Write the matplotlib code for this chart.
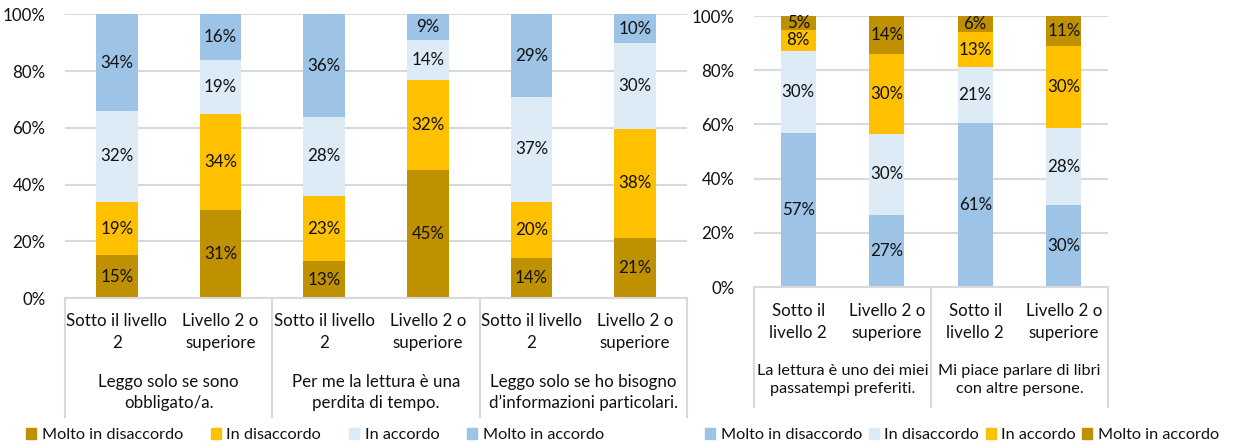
import numpy as np
import matplotlib.pyplot as plt
from matplotlib.patches import Patch

plt.rcParams['font.family'] = ['Lato', 'DejaVu Sans']

# Colori
DARK_GOLD = '#BF9000'
GOLD = '#FFC000'
PALE = '#DDEBF7'
BLUE = '#9DC3E6'
GRID = '#D9D9D9'
TXT = '#111111'
FS = 12.2
FS_LEG = 11.7

# Pannello sinistro
left_levels = ['Sotto il livello\n2', 'Livello 2 o\nsuperiore'] * 3
left_groups = ['Leggo solo se sono\nobbligato/a.',
               'Per me la lettura è una\nperdita di tempo.',
               'Leggo solo se ho bisogno\nd’informazioni particolari.']
left_series = ['Molto in disaccordo', 'In disaccordo', 'In accordo', 'Molto in accordo']
left_values = [
    [15, 31, 13, 45, 14, 21],   # Molto in disaccordo
    [19, 34, 23, 32, 20, 38],   # In disaccordo
    [32, 19, 28, 14, 37, 30],   # In accordo
    [34, 16, 36, 9, 29, 10],    # Molto in accordo
]
left_colors = [DARK_GOLD, GOLD, PALE, BLUE]

# Pannello destro
right_levels = ['Sotto il\nlivello 2', 'Livello 2 o\nsuperiore'] * 2
right_groups = ['La lettura è uno dei miei\npassatempi preferiti.',
                'Mi piace parlare di libri\ncon altre persone.']
right_series = ['Molto in disaccordo', 'In disaccordo', 'In accordo', 'Molto in accordo']
right_values = [
    [57, 27, 61, 30],   # Molto in disaccordo
    [30, 30, 21, 28],   # In disaccordo
    [8, 30, 13, 30],    # In accordo
    [5, 14, 6, 11],     # Molto in accordo
]
right_colors = [BLUE, PALE, GOLD, DARK_GOLD]

W, H = 1259, 448
fig = plt.figure(figsize=(W / 100, H / 100), dpi=100)


def px_axes(x0, x1, y_top, y_bot):
    return fig.add_axes([x0 / W, (H - y_bot) / H, (x1 - x0) / W, (y_bot - y_top) / H])


def draw_panel(ax, levels, groups, values, colors, y_top, y_bot, sep_bot, lab_y, grp_y,
               grp_fs=FS):
    n = len(levels)
    x = np.arange(n)
    vals_arr = np.array(values, dtype=float)
    shares = vals_arr / vals_arr.sum(axis=0)   # colonne in pila al 100%
    bottom = np.zeros(n)
    for share, vals, col in zip(shares, values, colors):
        ax.bar(x, share, 0.4, bottom=bottom, color=col, zorder=2)
        for xi, b, h, lab in zip(x, bottom, share, vals):
            ax.text(xi, b + h / 2, f'{lab}%', ha='center', va='center',
                    fontsize=FS, color=TXT, zorder=3)
        bottom += share

    ax.set_xlim(-0.5, n - 0.5)
    ax.set_ylim(0, 1)
    ticks = np.arange(0, 1.01, 0.2)
    ax.set_yticks(ticks)
    ax.set_yticklabels([f'{int(round(t * 100))}%' for t in ticks], fontsize=FS, color=TXT)
    ax.tick_params(axis='y', length=0, pad=14)
    ax.set_xticks([])
    ax.grid(axis='y', color=GRID, linewidth=1.5, zorder=0)
    for s in ['top', 'right', 'left']:
        ax.spines[s].set_visible(False)
    ax.spines['bottom'].set_color(GRID)
    ax.spines['bottom'].set_linewidth(1.5)

    # etichette su due livelli sotto l'asse
    ph = y_bot - y_top
    tr = ax.get_xaxis_transform()
    to_ax = lambda yp: -(yp - y_bot) / ph
    for xi, lab in zip(x, levels):
        ax.text(xi, to_ax(lab_y), lab, transform=tr, ha='center', va='top',
                fontsize=FS, color=TXT, linespacing=1.45)
    for gi, g in enumerate(groups):
        ax.text(2 * gi + 0.5, to_ax(grp_y), g, transform=tr, ha='center', va='top',
                fontsize=grp_fs, color=TXT, linespacing=1.35)
    for sx in np.arange(-0.5, n, 2):
        ax.plot([sx, sx], [0, to_ax(sep_bot)], transform=tr, color=GRID,
                linewidth=1.5, clip_on=False)


ax1 = px_axes(65, 687, 14.5, 298)
draw_panel(ax1, left_levels, left_groups, left_values, left_colors,
           14.5, 298, 417, 313, 374)

ax2 = px_axes(754, 1108, 16, 287)
draw_panel(ax2, right_levels, right_groups, right_values, right_colors,
           16, 287, 407, 303, 364, grp_fs=11.7)

# legende
h1 = [Patch(color=c, label=l) for c, l in zip(left_colors, left_series)]
fig.legend(handles=h1, loc='center left', bbox_to_anchor=(26 / W, 1 - 435 / H),
           ncol=4, frameon=False, fontsize=FS_LEG, handlelength=0.62, handleheight=0.62,
           handletextpad=0.35, columnspacing=1.7, labelcolor=TXT, borderaxespad=0,
           borderpad=0)
h2 = [Patch(color=c, label=l) for c, l in zip(right_colors, right_series)]
fig.legend(handles=h2, loc='center left', bbox_to_anchor=(705 / W, 1 - 435 / H),
           ncol=4, frameon=False, fontsize=FS_LEG, handlelength=0.62, handleheight=0.62,
           handletextpad=0.35, columnspacing=0.4, labelcolor=TXT, borderaxespad=0,
           borderpad=0)

fig.savefig('out.png', dpi=100)
